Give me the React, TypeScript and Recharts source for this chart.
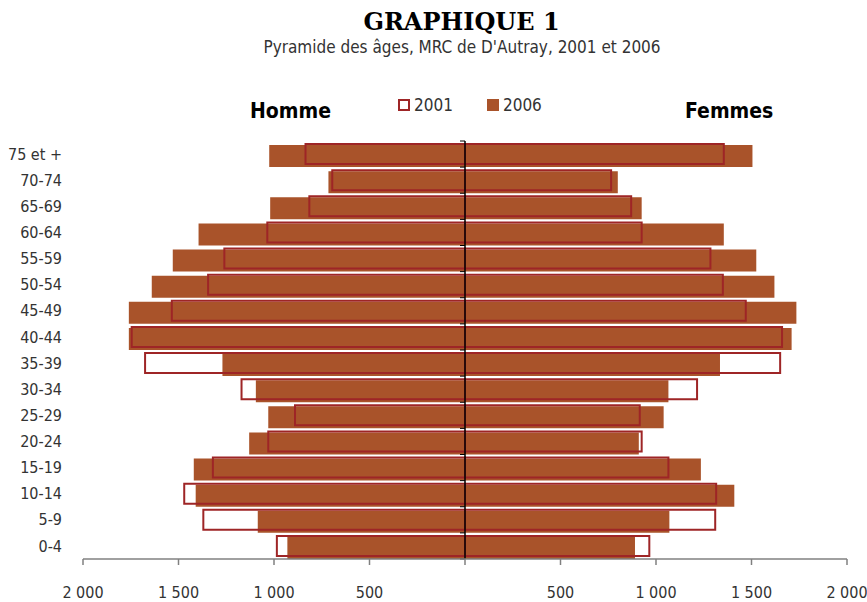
import React from "react"
import { Bar, BarChart, Legend, ReferenceLine, XAxis, YAxis } from "recharts"

const AGE_GROUPS = [
    "75 et +", "70-74", "65-69", "60-64", "55-59", "50-54", "45-49", "40-44",
    "35-39", "30-34", "25-29", "20-24", "15-19", "10-14", "5-9", "0-4",
]
const MEN_2001 = [835, 695, 815, 1035, 1260, 1345, 1535, 1745, 1675, 1170, 890, 1030, 1320, 1470, 1370, 985]
const MEN_2006 = [1025, 715, 1020, 1395, 1530, 1640, 1760, 1760, 1270, 1095, 1030, 1130, 1420, 1410, 1085, 930]
const WOMEN_2001 = [1355, 765, 870, 925, 1285, 1350, 1470, 1660, 1650, 1215, 915, 925, 1065, 1315, 1310, 965]
const WOMEN_2006 = [1505, 800, 925, 1355, 1525, 1620, 1735, 1710, 1335, 1065, 1040, 910, 1235, 1410, 1070, 890]
const YEARS = ["2001", "2006"]
const X_TICKS = [-2000, -1500, -1000, -500, 0, 500, 1000, 1500, 2000]

const COLORS = {
    y2006: "#a9532a",
    y2001: "#9e2526",
    text: "#333333",
    axis: "#808080",
}

const SANS = "'DejaVu Sans Condensed', 'DejaVu Sans', sans-serif"

const data = AGE_GROUPS.map((age, i) => ({
    age,
    men2006: -MEN_2006[i],
    women2006: WOMEN_2006[i],
    men2001: -MEN_2001[i],
    women2001: WOMEN_2001[i],
}))

function formatTick(v: number) {
    if (v === 0) return ""
    return String(Math.abs(v)).replace(/\B(?=(\d{3})+(?!\d))/g, " ")
}

// zero line with small tick marks between the age groups
function ZeroLine(props: any) {
    const { x1, y1, y2 } = props
    const n = AGE_GROUPS.length
    const marks = []
    for (let i = 0; i <= n; i++) {
        const y = y1 + ((y2 - y1) * i) / n
        marks.push(<line key={i} x1={x1 - 5} x2={x1} y1={y} y2={y} stroke="#000" strokeWidth={1} />)
    }
    return (
        <g>
            <line x1={x1} x2={x1} y1={y1} y2={y2} stroke="#000" strokeWidth={1.5} />
            {marks}
        </g>
    )
}

function LegendContent({ payload }: any) {
    const items = (payload || [])
        .filter((entry: any) => YEARS.includes(String(entry.value)))
        .sort((a: any, b: any) => String(a.value).localeCompare(String(b.value)))
    return (
        <div style={{ display: "flex", alignItems: "center", gap: 34, fontFamily: SANS, fontSize: 17, color: COLORS.text, lineHeight: "20px" }}>
            {items.map((entry: any) => (
                <div key={entry.value} style={{ display: "flex", alignItems: "center", gap: 4 }}>
                    {entry.value === "2001" ? (
                        <span style={{ width: 8, height: 8, border: `2px solid ${COLORS.y2001}`, background: "#fff", display: "inline-block" }} />
                    ) : (
                        <span style={{ width: 12, height: 12, background: COLORS.y2006, display: "inline-block" }} />
                    )}
                    <span>{entry.value}</span>
                </div>
            ))}
        </div>
    )
}

export default function App() {
    return (
        <div style={{ position: "absolute", left: 0, top: 0, width: 867, height: 602, background: "#fff" }}>
            <svg width={867} height={130} style={{ position: "absolute", left: 0, top: 0 }}>
                <text x={461.5} y={30} textAnchor="middle" fontFamily="'DejaVu Serif', serif" fontWeight="bold" fontSize={24} fill="#000">
                    GRAPHIQUE 1
                </text>
                <text x={462} y={53} textAnchor="middle" fontFamily={SANS} fontSize={17} fill={COLORS.text}>
                    Pyramide des âges, MRC de D'Autray, 2001 et 2006
                </text>
                <text x={250} y={118} fontFamily={SANS} fontWeight="bold" fontSize={21} fill="#000">
                    Homme
                </text>
                <text x={685} y={118} fontFamily={SANS} fontWeight="bold" fontSize={21} fill="#000">
                    Femmes
                </text>
            </svg>
            <div style={{ position: "absolute", left: 0, top: 0 }}>
                <BarChart
                    layout="vertical"
                    width={867}
                    height={602}
                    data={data}
                    margin={{ top: 141, right: 20, bottom: 0, left: 0 }}
                    stackOffset="sign"
                    barCategoryGap={0}
                    barGap={-23}
                >
                    <XAxis
                        type="number"
                        domain={[-2000, 2000]}
                        ticks={X_TICKS}
                        interval={0}
                        height={43}
                        tickFormatter={formatTick}
                        axisLine={{ stroke: COLORS.axis, strokeWidth: 1.5 }}
                        tickLine={{ stroke: COLORS.axis, strokeWidth: 1.5 }}
                        tickSize={6}
                        tickMargin={22}
                        tick={{ fill: COLORS.text, fontSize: 16, fontFamily: SANS }}
                    />
                    <YAxis
                        type="category"
                        dataKey="age"
                        width={83}
                        interval={0}
                        axisLine={false}
                        tickLine={false}
                        tickSize={0}
                        tickMargin={21}
                        tick={{ fill: COLORS.text, fontSize: 16, fontFamily: SANS }}
                    />
                    <Legend
                        layout="horizontal"
                        verticalAlign="middle"
                        align="center"
                        content={<LegendContent />}
                        wrapperStyle={{ position: "absolute", left: 398, top: 94.5, width: "auto", height: 20 }}
                    />
                    <Bar dataKey="men2006" stackId="y2006" barSize={22} fill={COLORS.y2006} legendType="none" isAnimationActive={false} />
                    <Bar dataKey="women2006" name="2006" stackId="y2006" barSize={22} fill={COLORS.y2006} isAnimationActive={false} />
                    <Bar dataKey="men2001" stackId="y2001" barSize={20} fill="none" stroke={COLORS.y2001} strokeWidth={2} legendType="none" isAnimationActive={false} />
                    <Bar dataKey="women2001" name="2001" stackId="y2001" barSize={20} fill="none" stroke={COLORS.y2001} strokeWidth={2} isAnimationActive={false} />
                    <ReferenceLine x={0} shape={<ZeroLine />} />
                </BarChart>
            </div>
        </div>
    )
}
